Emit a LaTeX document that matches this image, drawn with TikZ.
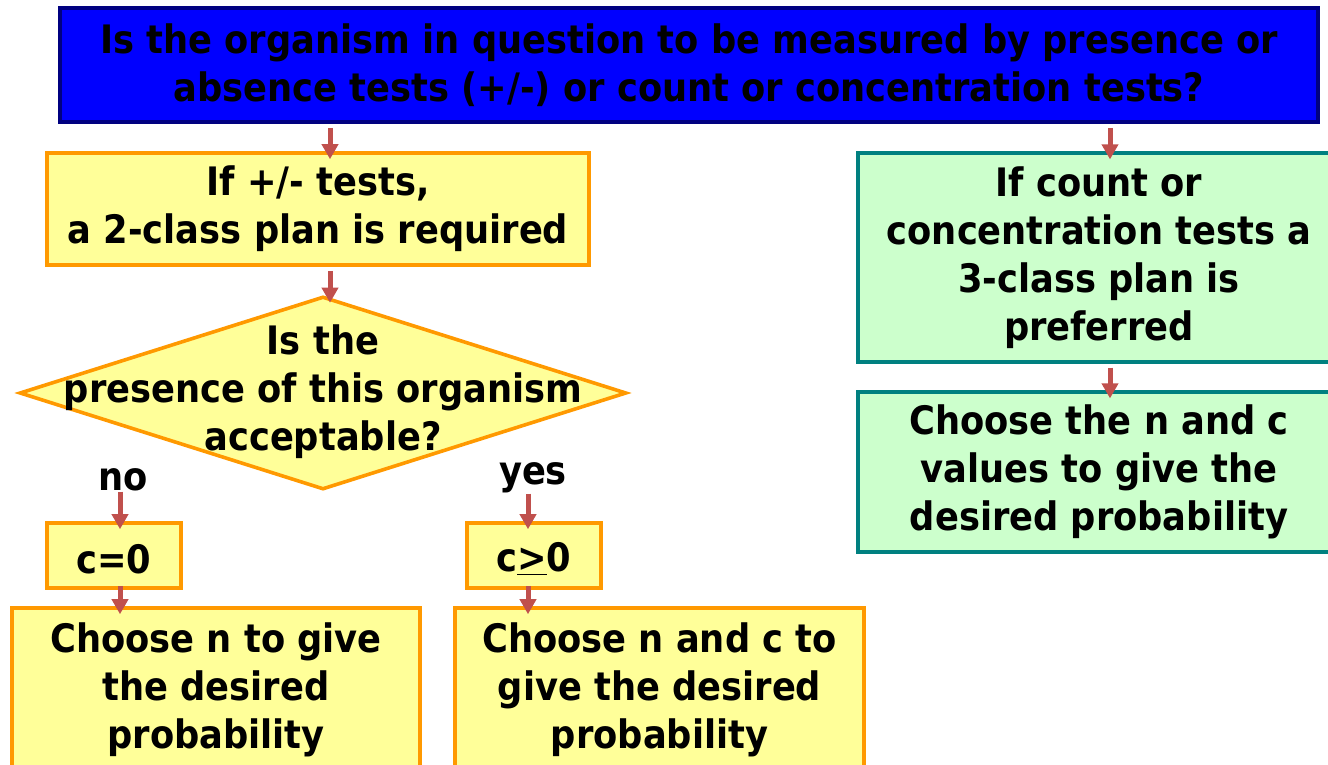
\documentclass[tikz,border=0pt]{standalone}
\usepackage{fontspec}
\setmainfont{DejaVu Sans Condensed}
\usetikzlibrary{arrows.meta,positioning,shapes.geometric}
\definecolor{cQ}{HTML}{0000FF}
\definecolor{cQd}{HTML}{000080}
\definecolor{cY}{HTML}{FFFF99}
\definecolor{cYd}{HTML}{FF9900}
\definecolor{cG}{HTML}{CCFFCC}
\definecolor{cGd}{HTML}{008080}
\definecolor{cAr}{HTML}{C0504D}
\tikzset{
  >=Triangle,
  box/.style ={draw,align=center,inner sep=0pt,font=\bfseries\fontsize{19.6}{24}\selectfont,
               execute at begin node=\rule{0pt}{18.3pt}},
  qbox/.style={box,draw=cQd,fill=cQ,line width=2pt},
  ybox/.style={box,draw=cYd,fill=cY,line width=1.8pt},
  gbox/.style={box,draw=cGd,fill=cG,line width=1.6pt},
  dia/.style ={diamond,draw=cYd,fill=cY,line width=1.8pt,inner sep=0pt},
  ar/.style  ={-{Triangle[width=8pt,length=7.5pt]},line width=2.5pt,cAr,shorten >=-4pt,shorten <=2pt},
  lbl/.style ={font=\bfseries\fontsize{19.6}{24}\selectfont,inner sep=0pt,align=center},
}

\begin{document}
\begin{tikzpicture}[x=0.5pt,y=-0.5pt]
\useasboundingbox (0,0) rectangle (1328,765);
\clip (0,0) rectangle (1328,765);
% arrow columns
\coordinate (xm) at (330,0);
\coordinate (xl) at (120,0);
\coordinate (xr) at (528,0);
\coordinate (xg) at (1110,0);
% question
\node[qbox,minimum width=629pt,minimum height=57pt] (q) at (689,65)
 {Is the organism in question to be measured by presence or\\
  absence tests (+/-) or count or concentration tests?};
% left branch: 2-class plan
\node[ybox,minimum width=271pt,minimum height=56pt] (plus) at (318,209)
 {If +/- tests,\\a 2-class plan is required};
\node[dia,minimum width=303.5pt,minimum height=96.5pt] (acc) at (323,393) {};
\node[lbl,yshift=0.5pt] at (acc) {Is the\\presence of this organism\\acceptable?};
\node[lbl] (no)  at (123,480) {no};
\node[lbl] (yes) at (533,478) {yes};
\node[ybox,minimum width=67pt,minimum height=32.5pt] (zero) at (114,555.5) {c=0};
\node[ybox,minimum width=67pt,minimum height=32.5pt] (geq)  at (534,555.5) {c\underline{>}0};
\node[ybox,minimum width=204pt,minimum height=82pt] (chn)  at (216,690)
 {Choose n to give\\the desired\\probability};
\node[ybox,minimum width=204.5pt,minimum height=82pt] (chnc) at (659.5,690)
 {Choose n and c to\\give the desired\\probability};
% right branch: 3-class plan
\node[gbox,minimum width=241pt,minimum height=104.5pt] (cnt) at (1099,257.5)
 {If count or\\concentration tests a\\3-class plan is\\preferred};
\node[gbox,minimum width=241pt,minimum height=80pt] (chg) at (1099,472)
 {Choose the n and c\\values to give the\\desired probability};
% arrows
\draw[ar] (q.south -| xm) -- (plus.north -| xm);
\draw[ar] (plus.south -| xm) -- (acc.north -| xm);
\draw[ar] (q.south -| xg) -- (cnt.north -| xg);
\draw[ar] (cnt.south -| xg) -- (chg.north -| xg);
\draw[ar,shorten <=0pt] (no.south -| xl) -- (zero.north -| xl);
\draw[ar,shorten <=0pt] (yes.south -| xr) -- (geq.north -| xr);
\draw[ar,shorten <=-2pt] (zero.south -| xl) -- (chn.north -| xl);
\draw[ar,shorten <=-2pt] (geq.south -| xr) -- (chnc.north -| xr);
\end{tikzpicture}
\end{document}
